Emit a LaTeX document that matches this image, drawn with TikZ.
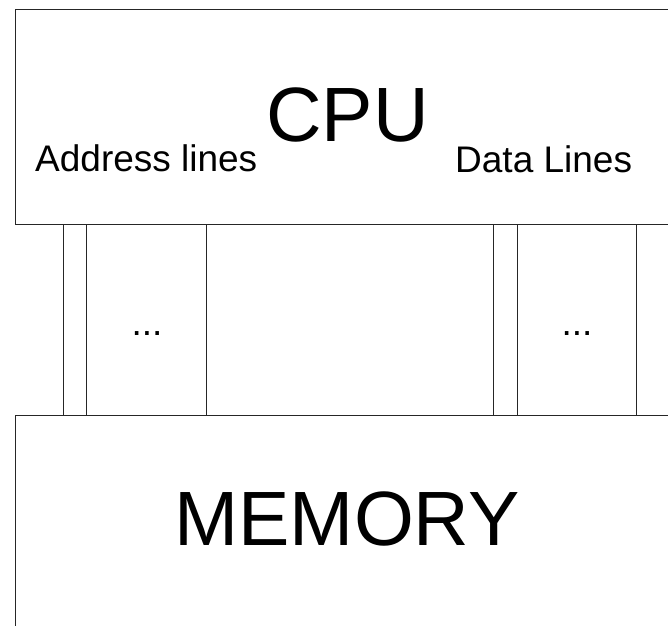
\documentclass[tikz,border=0pt]{standalone}
\usepackage{fontspec}
\setmainfont{Liberation Sans}
\begin{document}
\begin{tikzpicture}[x=1pt,y=-1pt,
  unitbox/.style={draw=black!85,line width=1pt,rectangle,inner sep=0pt,anchor=north west},
  busline/.style={draw=black!85,line width=1pt},
  title/.style={inner sep=0pt,anchor=base,font=\fontsize{77}{77}\selectfont},
  label/.style={inner sep=0pt,font=\fontsize{37}{37}\selectfont}]
  \useasboundingbox (0,0) rectangle (668,625);
  \clip (0,0) rectangle (668,625);
  % the two units, running past the right and lower edges
  \node[unitbox,minimum width=700pt,minimum height=215pt] (cpu) at (14.5,8.5) {};
  \node[unitbox,minimum width=700pt,minimum height=260pt] (mem) at (14.5,414.5) {};
  % unit names
  \node[title] (cputxt) at (347.5,141) {CPU};
  \node[title] (memtxt) at (347,545) {MEMORY};
  % bus labels
  \node[label,anchor=base west] (addr) at (35,171) {Address lines};
  \node[label,anchor=base west] (data) at (455,172) {Data Lines};
  % address and data bus lines
  \foreach \x in {63,86.5,206.5,493,517,636.5}
    \draw[busline] (cpu.south -| \x,0) -- (mem.north -| \x,0);
  \node[label,anchor=base] (adots) at (147,335) {...};
  \node[label,anchor=base] (ddots) at (577,335) {...};
\end{tikzpicture}
\end{document}
